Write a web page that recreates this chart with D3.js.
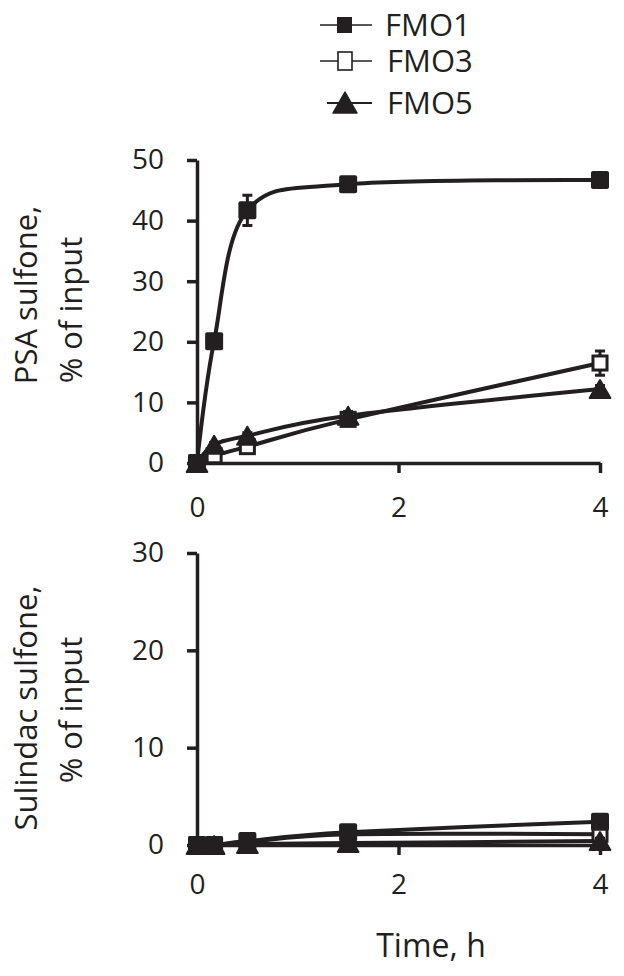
<!DOCTYPE html>
<html>
<head>
<meta charset="utf-8">
<script src="https://cdn.jsdelivr.net/npm/d3@7"></script>
<style>
  body { margin: 0; background: #fff; }
  svg text { font-family: "Open Sans", sans-serif; fill: #231f20; }
</style>
</head>
<body>
<div id="chart"></div>
<script>
// sampling times (h)
var times = [0, 0.17, 0.5, 1.5, 4];
var seriesNames = ["FMO1", "FMO3", "FMO5"];

// PSA sulfone, % of input
var psaFmo1 = [0, 20.1, 41.7, 46.0, 46.7];
var psaFmo3 = [0, 1.2, 2.7, 7.2, 16.5];
var psaFmo5 = [0, 3.0, 4.5, 7.8, 12.2];
var psaFmo1Err = [0, 0.6, 2.5, 0.8, 0.7];
var psaFmo3Err = [0, 0.4, 0.6, 0.6, 2.0];
var psaFmo5Err = [0, 0.4, 0.5, 0.7, 0.6];

// Sulindac sulfone, % of input
var sulFmo1 = [0, 0, 0.4, 1.3, 2.4];
var sulFmo3 = [0, 0, 0.3, 1.1, 1.1];
var sulFmo5 = [0, 0, 0.1, 0.2, 0.4];
var sulErr = [0, 0, 0.1, 0.2, 0.3];

var xTicks = [0, 2, 4];
var psaTicks = [0, 10, 20, 30, 40, 50];
var sulTicks = [0, 10, 20, 30];

var ink = "#231f20";
var width = 624, height = 976;

var svg = d3.select("#chart").append("svg")
    .attr("width", width)
    .attr("height", height);

// marker shapes
function drawMarker(g, type, x, y, size) {
  if (type == "FMO1") {
    g.append("rect")
      .attr("x", x - size / 2).attr("y", y - size / 2)
      .attr("width", size).attr("height", size)
      .attr("rx", 2)
      .attr("fill", ink);
  } else if (type == "FMO3") {
    var s = size * 0.78;
    g.append("rect")
      .attr("x", x - s / 2).attr("y", y - s / 2)
      .attr("width", s).attr("height", s)
      .attr("fill", "#fff")
      .attr("stroke", ink)
      .attr("stroke-width", 3);
  } else {
    var w = size * 1.15, h = size;
    g.append("path")
      .attr("d", "M" + x + "," + (y - h / 2) + "L" + (x + w / 2) + "," + (y + h / 2) + "L" + (x - w / 2) + "," + (y + h / 2) + "Z")
      .attr("fill", ink)
      .attr("stroke", ink)
      .attr("stroke-width", 2)
      .attr("stroke-linejoin", "round");
  }
}

function panel(opt) {
  var x = d3.scaleLinear().domain([0, 4]).range([197, 600]);
  var y = d3.scaleLinear().domain(opt.yDomain).range(opt.yRange);
  var g = svg.append("g");

  // axes
  var yAxis = g.append("g")
    .attr("transform", "translate(" + x(0) + ",0)")
    .call(d3.axisLeft(y).tickValues(opt.yTicks).tickSize(10).tickSizeOuter(0).tickPadding(23).tickFormat(d3.format("d")));
  var xAxis = g.append("g")
    .attr("transform", "translate(0," + y(0) + ")")
    .call(d3.axisBottom(x).tickValues(xTicks).tickSize(10).tickSizeOuter(0).tickPadding(opt.xPad).tickFormat(d3.format("d")));
  [yAxis, xAxis].forEach(function(a) {
    a.select(".domain").attr("stroke", ink).attr("stroke-width", 3.5);
    a.selectAll(".tick line").attr("stroke", ink).attr("stroke-width", 3.5);
    a.selectAll(".tick text").style("font-size", "28px").attr("fill", ink);
  });

  var line = d3.line()
    .x(function(d) { return x(d[0]); })
    .y(function(d) { return y(d[1]); })
    .curve(d3.curveCatmullRom.alpha(0));

  // lines first, then error bars and markers on top
  opt.series.forEach(function(s) {
    var pts = times.map(function(t, i) { return [t, s.values[i]]; });
    g.append("path")
      .datum(pts)
      .attr("d", line)
      .attr("fill", "none")
      .attr("stroke", ink)
      .attr("stroke-width", 4);
  });

  opt.series.forEach(function(s) {
    var mg = g.append("g");
    times.forEach(function(t, i) {
      var e = s.err[i];
      if (e > 0) {
        var cx = x(t);
        mg.append("path")
          .attr("d", "M" + cx + "," + y(s.values[i] - e) + "V" + y(s.values[i] + e) +
            "M" + (cx - 5) + "," + y(s.values[i] - e) + "H" + (cx + 5) +
            "M" + (cx - 5) + "," + y(s.values[i] + e) + "H" + (cx + 5))
          .attr("stroke", ink)
          .attr("stroke-width", 3)
          .attr("fill", "none");
      }
      drawMarker(mg, s.name, x(t), y(s.values[i]), 18);
    });
  });

  // y title, two lines, rotated
  opt.title.forEach(function(tl, i) {
    g.append("text")
      .attr("transform", "translate(" + tl.x + "," + tl.y + ") rotate(-90)")
      .attr("text-anchor", "middle")
      .style("font-size", "31px")
      .text(tl.text);
  });
}

panel({
  yDomain: [0, 50], yRange: [463, 160], yTicks: psaTicks, xPad: 24,
  series: [
    { name: "FMO3", values: psaFmo3, err: psaFmo3Err },
    { name: "FMO5", values: psaFmo5, err: psaFmo5Err },
    { name: "FMO1", values: psaFmo1, err: psaFmo1Err }
  ],
  title: [
    { text: "PSA sulfone,", x: 37, y: 295 },
    { text: "% of input", x: 82, y: 310 }
  ]
});

panel({
  yDomain: [0, 30], yRange: [845, 553], yTicks: sulTicks, xPad: 19,
  series: [
    { name: "FMO3", values: sulFmo3, err: sulErr },
    { name: "FMO5", values: sulFmo5, err: sulErr },
    { name: "FMO1", values: sulFmo1, err: sulErr }
  ],
  title: [
    { text: "Sulindac sulfone,", x: 37, y: 708 },
    { text: "% of input", x: 82, y: 710 }
  ]
});

// x axis title
svg.append("text")
  .attr("x", 431).attr("y", 957)
  .attr("text-anchor", "middle")
  .style("font-size", "32px")
  .text("Time, h");

// legend
var legend = svg.append("g");
var legendY = [25, 61, 103];
seriesNames.forEach(function(n, i) {
  var ly = legendY[i];
  legend.append("line")
    .attr("x1", n == "FMO5" ? 327 : 320).attr("x2", 372)
    .attr("y1", ly).attr("y2", ly)
    .attr("stroke", ink)
    .attr("stroke-width", n == "FMO5" ? 2.2 : 1.6);
  if (n == "FMO1") {
    legend.append("rect").attr("x", 337).attr("y", ly - 8).attr("width", 15).attr("height", 16).attr("fill", ink);
  } else if (n == "FMO3") {
    legend.append("rect").attr("x", 338).attr("y", ly - 9).attr("width", 14).attr("height", 18)
      .attr("fill", "#fff").attr("stroke", ink).attr("stroke-width", 1.6);
  } else {
    legend.append("path")
      .attr("d", "M345," + (ly - 11) + "L357," + (ly + 10) + "L333," + (ly + 10) + "Z")
      .attr("fill", ink).attr("stroke", ink).attr("stroke-width", 1.5).attr("stroke-linejoin", "round");
  }
  legend.append("text")
    .attr("x", n == "FMO1" ? 385 : 387)
    .attr("y", ly + 11)
    .style("font-size", "31px")
    .text(n);
});
</script>
</body>
</html>
